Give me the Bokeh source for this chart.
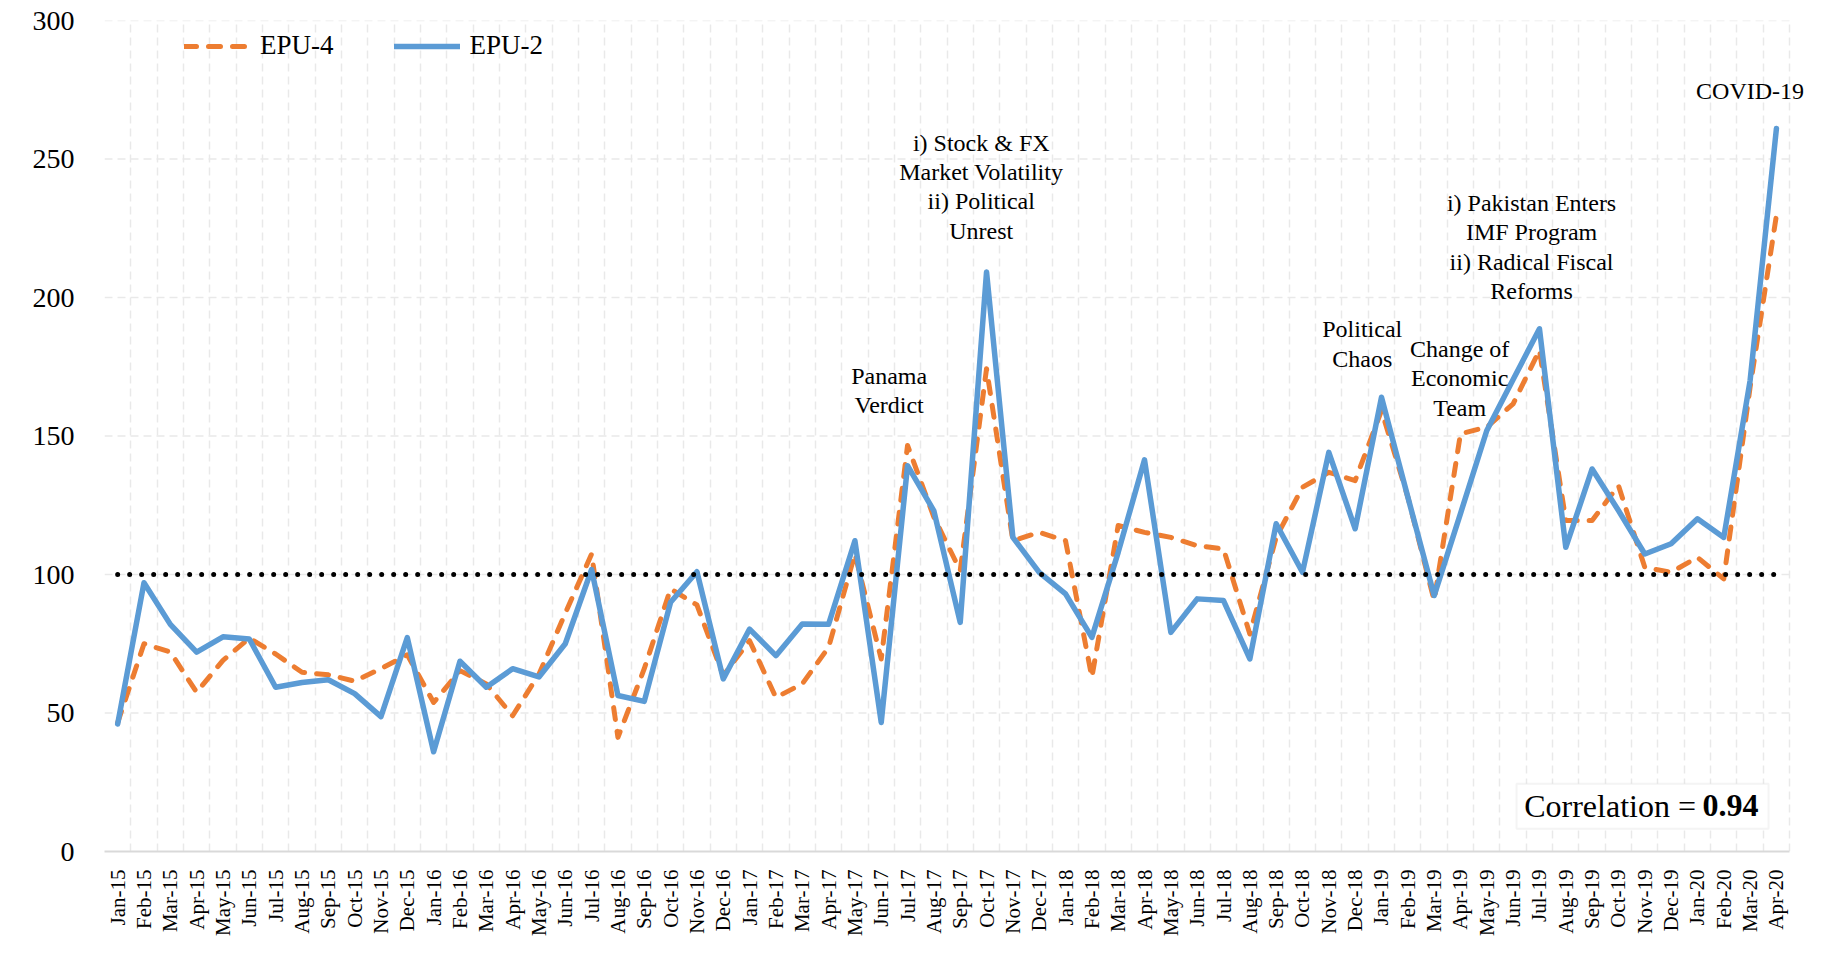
import math
from bokeh.plotting import figure
from bokeh.models import (ColumnDataSource, Range1d, FixedTicker, Legend, LegendItem,
                          Label, BoxAnnotation)
from bokeh.core.properties import value
from bokeh.embed import file_html
from bokeh.resources import INLINE

# ---------------- data ----------------
months = [f"{m}-{y}" for y in ("15", "16", "17", "18", "19") for m in
          ("Jan", "Feb", "Mar", "Apr", "May", "Jun", "Jul", "Aug", "Sep", "Oct", "Nov", "Dec")]
months += ["Jan-20", "Feb-20", "Mar-20", "Apr-20"]

epu2 = [46, 97, 82, 72, 77.5, 76.7, 59.3, 61, 62, 57, 48.7, 77.2,
        36, 68.7, 59.3, 66, 63, 75, 101.8, 56.3, 54.2, 90, 101, 62.3,
        80.3, 70.7, 82.1, 82, 112.2, 46.6, 139.3, 123, 82.7, 209.2, 113.4, 100.8,
        93, 77.3, 108, 141.4, 79.1, 91.2, 90.6, 69.5, 118.3, 100.8, 144.1, 116.5,
        164, 128, 92.4, 122, 152, 170.4, 188.7, 109.8, 138.1, 123.1, 107.4, 111.1,
        120.1, 113.4, 170, 261]

epu4 = [46.5, 75, 72, 57.5, 69, 77, 71.3, 64.7, 63.8, 61.5, 66, 71,
        53.8, 65.3, 60.5, 49, 64, 86, 107.4, 41.2, 66, 94.8, 89, 63.5,
        76.1, 55.6, 60.5, 73.7, 107.4, 69.5, 146.6, 120.7, 101.4, 174.3, 112.2, 115.2,
        112.2, 62.9, 117.7, 115.2, 113.4, 110.4, 109.2, 78.5, 113.4, 131.5, 136.9, 133.9,
        159.2, 128, 90.6, 150.8, 153.2, 161.6, 181, 119.5, 119.5, 132.1, 102.6, 100.8,
        106.2, 98.4, 167.6, 229.7]

baseline = [100] * len(months)

y_ticks = [0, 50, 100, 150, 200, 250, 300]

event_text = ["Panama\nVerdict",
              "i) Stock & FX\nMarket Volatility\nii) Political\nUnrest",
              "Political\nChaos",
              "Change of\nEconomic\nTeam",
              "i) Pakistan Enters\nIMF Program\nii) Radical Fiscal\nReforms",
              "COVID-19"]
event_x = [29.3, 32.8, 47.27, 50.97, 53.7, 62.0]
event_y = [166.4, 240.0, 183.2, 170.8, 218.2, 274.4]

correlation = 0.94

# ---------------- figure ----------------
SERIF = "Liberation Serif"
n = len(months)
x = list(range(n))
src = ColumnDataSource(dict(x=x, epu2=epu2, epu4=epu4, base=baseline))

# the frame is a little wider than the category area so that the
# "COVID-19" note can overhang the last category, as in the original
X_END = n - 0.5 + 0.87
p = figure(width=1828, height=953, output_backend="svg", toolbar_location=None,
           x_range=Range1d(-0.5, X_END), y_range=Range1d(0, 300),
           min_border_left=104, min_border_right=16, min_border_top=20, min_border_bottom=102)
p.outline_line_color = None
p.background_fill_color = "white"
p.border_fill_color = "white"

# axes
p.xaxis.ticker = FixedTicker(ticks=x)
p.xaxis.bounds = (-0.5, n - 0.5)
p.xaxis.major_label_overrides = {i: m for i, m in enumerate(months)}
p.xaxis.major_label_orientation = math.pi / 2
p.xaxis.major_label_text_font = SERIF
p.xaxis.major_label_text_font_size = "21px"
p.xaxis.major_label_text_color = "black"
p.xaxis.major_label_standoff = 12
p.xaxis.axis_line_color = "#d9d9d9"
p.xaxis.axis_line_width = 2
p.xaxis.major_tick_line_color = None
p.xaxis.minor_tick_line_color = None

p.yaxis.ticker = FixedTicker(ticks=y_ticks)
p.yaxis.major_label_text_font = SERIF
p.yaxis.major_label_text_font_size = "28px"
p.yaxis.major_label_text_color = "black"
p.yaxis.major_label_standoff = 24
p.yaxis.axis_line_color = None
p.yaxis.major_tick_line_color = None
p.yaxis.minor_tick_line_color = None

# grids: vertical at category boundaries, horizontal every 50 (limited to category area)
GRID = dict(line_color="#e9e9e9", line_width=1.5, line_dash="8 5")
p.xgrid.ticker = FixedTicker(ticks=[i - 0.5 for i in range(n + 1)])
p.xgrid.grid_line_color = GRID["line_color"]
p.xgrid.grid_line_width = GRID["line_width"]
p.xgrid.grid_line_dash = GRID["line_dash"]
p.ygrid.grid_line_color = None
hy = y_ticks[1:]
p.segment(x0=[-0.5] * len(hy), x1=[n - 0.5] * len(hy), y0=hy, y1=hy,
          level="underlay", **GRID)

# lines
r4 = p.line("x", "epu4", source=src, line_color="#ED7D31", line_width=5,
            line_dash="12 12", line_cap="round", line_join="round")
r2 = p.line("x", "epu2", source=src, line_color="#5B9BD5", line_width=5.5,
            line_join="round", line_cap="round")
p.line("x", "base", source=src, line_color="black", line_width=5,
       line_dash="0 12", line_cap="round")

# legend
legend = Legend(items=[LegendItem(label="EPU-4", renderers=[r4]),
                       LegendItem(label="EPU-2", renderers=[r2])],
                orientation="horizontal", location=(80, 790))
legend.label_text_font = SERIF
legend.label_text_font_size = "27px"
legend.label_text_color = "black"
legend.glyph_width = 66
legend.glyph_height = 30
legend.label_standoff = 10
legend.spacing = 60
legend.padding = 0
legend.margin = 0
legend.border_line_color = None
legend.background_fill_alpha = 0
p.add_layout(legend, "center")

# event annotations
ev = ColumnDataSource(dict(x=event_x, y=event_y, t=event_text))
p.text("x", "y", text="t", source=ev, text_font=value(SERIF), text_font_size="24px",
       text_align="center", text_baseline="middle", text_line_height=1.13,
       text_color="black")

# correlation box
p.add_layout(BoxAnnotation(left=53.13, right=62.7, bottom=8.2, top=24.5,
                           fill_color="white", fill_alpha=1,
                           line_color="#d9d9d9", line_width=2))
p.add_layout(Label(x=53.42, y=16.5, text="Correlation = ", text_font=SERIF,
                   text_font_size="32px", text_baseline="middle", text_align="left",
                   text_color="black"))
p.add_layout(Label(x=62.32, y=16.5, text=f"{correlation:.2f}", text_font=SERIF,
                   text_font_size="32px", text_font_style="bold",
                   text_baseline="middle", text_align="right", text_color="black"))

open("out.html", "w").write(file_html(p, INLINE))
